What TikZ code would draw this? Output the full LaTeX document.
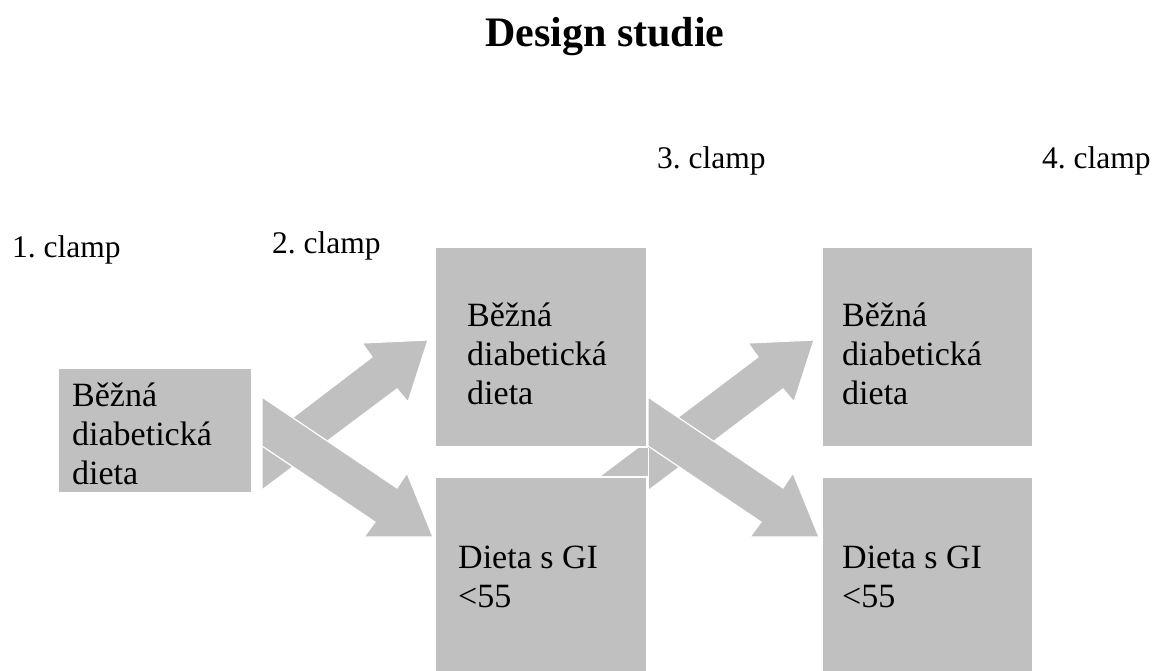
\documentclass[tikz,border=0pt]{standalone}
\usepackage{fontspec}
\setmainfont{Liberation Serif}
\frenchspacing
\definecolor{boxgray}{RGB}{192,192,192}
\begin{document}
\begin{tikzpicture}[x=1pt,y=-1pt,
  box/.style={fill=boxgray, draw=white, line width=1.5pt, inner sep=0pt, anchor=north west},
  blockarrow/.style={fill=boxgray, draw=white, line width=1.2pt, line join=miter},
  lbl/.style={anchor=base west, inner sep=0pt, font=\fontsize{31.5}{37}\selectfont},
  boxtext/.style={anchor=base west, inner sep=0pt, font=\fontsize{34}{39}\selectfont}]
\useasboundingbox[fill=white] (0,0) rectangle (1158,671);

% block arrows, first stage
\filldraw[blockarrow] (262,490) -- (262,441) -- (372,357) -- (362,343) -- (428,340) -- (408,402) -- (397,389) -- cycle;
\filldraw[blockarrow] (262,397) -- (262,446) -- (375,522) -- (364,537) -- (433,537) -- (407,473) -- (397,488) -- cycle;
% second stage, upward arrow (behind the middle boxes)
\filldraw[blockarrow] (600,527) -- (600,476) -- (758,357) -- (748,343) -- (814,340) -- (794,402) -- (783,389) -- cycle;

% boxes
\node[box, minimum width=194pt, minimum height=125pt] (A) at (57,367) {};
\node[box, minimum width=212pt, minimum height=200pt] (B) at (434,246) {};
\node[box, minimum width=212pt, minimum height=210pt] (C) at (434,476) {};

% second stage, downward arrow
\filldraw[blockarrow] (648,397) -- (648,446) -- (761,522) -- (750,537) -- (819,537) -- (793,473) -- (783,488) -- cycle;
\draw[white, line width=1.2pt] (B.south east) ++(1,0) -- ++(0,46);

\node[box, minimum width=211pt, minimum height=200pt] (D) at (821,246) {};
\node[box, minimum width=211pt, minimum height=210pt] (E) at (821,476) {};

% texts
\node[anchor=base, inner sep=0pt, font=\fontsize{42}{48}\selectfont\bfseries] (title) at (605,47) {Design studie};
\node[lbl] (c1) at (12,257) {1. clamp};
\node[lbl] (c2) at (272,253) {2. clamp};
\node[lbl] (c3) at (657,168) {3. clamp};
\node[lbl] (c4) at (1042,168) {4. clamp};

\node[boxtext] (tA) at (72,406) {\vtop{\baselineskip=39pt\hbox{Běžná}\hbox{diabetická}\hbox{dieta}}};
\node[boxtext] (tB) at (467,326) {\vtop{\baselineskip=39pt\hbox{Běžná}\hbox{diabetická}\hbox{dieta}}};
\node[boxtext] (tD) at (842,326) {\vtop{\baselineskip=39pt\hbox{Běžná}\hbox{diabetická}\hbox{dieta}}};
\node[boxtext] (tC) at (458,568) {\vtop{\baselineskip=39pt\hbox{Dieta s GI}\hbox{<55}}};
\node[boxtext] (tE) at (842,568) {\vtop{\baselineskip=39pt\hbox{Dieta s GI}\hbox{<55}}};
\end{tikzpicture}
\end{document}
